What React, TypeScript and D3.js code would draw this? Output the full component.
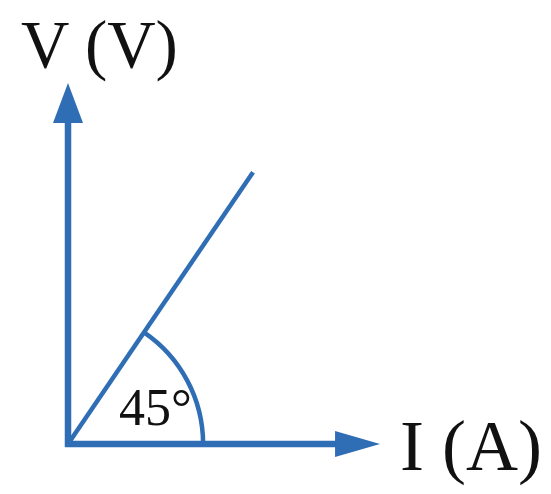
import React from "react";
import * as d3 from "d3";

const W = 551;
const H = 494;

// Diagram content
const axisLabels = ["I (A)", "V (V)"];
const angleLabel = ["45°"];
// Line through origin, ends at (I, V) in axis units
const lineI = [0, 0.593];
const lineV = [0, 0.753];
const arcRadius = [0.433]; // in I-axis units

const xDomain = [0, 1];
const yDomain = [0, 1];

export default function App() {
  const x = d3.scaleLinear().domain(xDomain).range([68, 380]);
  const y = d3.scaleLinear().domain(yDomain).range([444, 83]);
  const blue = "#2F6DB5";

  const ox = x(0);
  const oy = y(0);
  const pts: [number, number][] = lineI.map((v, i) => [x(v), y(lineV[i])]);
  const lineGen = d3.line();
  const ang = Math.atan2(oy - pts[1][1], pts[1][0] - ox);
  const r = x(arcRadius[0]) - x(0);
  const arc = d3
    .arc()
    .innerRadius(r)
    .outerRadius(r)
    .startAngle(Math.PI / 2 - ang)
    .endAngle(Math.PI / 2);

  const font = "'Liberation Serif', 'Times New Roman', serif";

  return (
    <svg
      width={W}
      height={H}
      style={{ position: "absolute", left: 0, top: 0, background: "#fff" }}
    >
      {/* V axis */}
      <line x1={ox} y1={oy + 3} x2={ox} y2={y(0.89)} stroke={blue} strokeWidth={6.5} />
      <path
        d={`M${ox},${y(1)} L${ox - 15},${y(0.889)} L${ox + 15},${y(0.889)} Z`}
        fill={blue}
      />
      {/* I axis */}
      <line x1={ox - 3} y1={oy} x2={x(0.86)} y2={oy} stroke={blue} strokeWidth={6.5} />
      <path
        d={`M${x(1)},${oy} L${x(0.856)},${oy - 13} L${x(0.856)},${oy + 13} Z`}
        fill={blue}
      />
      {/* characteristic line */}
      <path d={lineGen(pts) || ""} stroke={blue} strokeWidth={4.5} fill="none" />
      {/* angle arc */}
      <path
        d={arc({} as any) || ""}
        transform={`translate(${ox},${oy})`}
        stroke={blue}
        strokeWidth={4.5}
        fill="none"
      />
      <text x={119} y={425} fontFamily={font} fontSize={52} fill="#111">
        {angleLabel[0]}
      </text>
      <text x={21} y={67} fontFamily={font} fontSize={67} fill="#111">
        {axisLabels[1]}
      </text>
      <text x={400} y={470} fontFamily={font} fontSize={72} fill="#111">
        {axisLabels[0]}
      </text>
    </svg>
  );
}
